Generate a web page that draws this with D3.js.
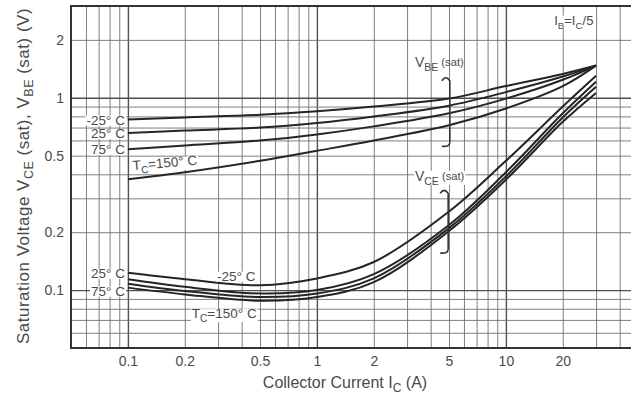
<!DOCTYPE html>
<head>
  <meta charset="utf-8">
  <script src="https://d3js.org/d3.v7.min.js"></script>
  <style>
    body { margin:0; background:#fff; }
    text { font-family: "Liberation Sans", Arial, sans-serif; fill:#4a4a4a; }
    .grid line { stroke:#707070; stroke-width:0.9px; }
    .grid line.major { stroke:#505050; stroke-width:1.4px; }
    .curve { fill:none; stroke:#252525; stroke-width:2px; }
    .brace { fill:none; stroke:#353535; stroke-width:1.6px; }
  </style>
</head>
<body>
<script>
// collector current (A) at which curves were read
var current = [0.1, 0.2, 0.5, 1, 2, 5, 10, 20, 30];

// V_BE(sat) per case temperature
var vbeM25 = [0.77, 0.79, 0.815, 0.85, 0.90, 0.99, 1.15, 1.33, 1.47];
var vbe25  = [0.655, 0.675, 0.70, 0.74, 0.80, 0.91, 1.07, 1.29, 1.47];
var vbe75  = [0.54, 0.565, 0.60, 0.645, 0.71, 0.83, 0.99, 1.24, 1.47];
var vbe150 = [0.377, 0.41, 0.47, 0.53, 0.60, 0.72, 0.88, 1.15, 1.47];

// V_CE(sat) per case temperature
var vceM25 = [0.123, 0.114, 0.106, 0.115, 0.140, 0.256, 0.47, 0.90, 1.30];
var vce25  = [0.114, 0.104, 0.096, 0.100, 0.121, 0.218, 0.41, 0.83, 1.21];
var vce75  = [0.108, 0.099, 0.092, 0.096, 0.115, 0.210, 0.39, 0.79, 1.14];
var vce150 = [0.103, 0.095, 0.088, 0.092, 0.110, 0.203, 0.375, 0.75, 1.06];

var xTickLabels = [0.1, 0.2, 0.5, 1, 2, 5, 10, 20];
var yTickLabels = [0.1, 0.2, 0.5, 1, 2];

var svg = d3.select("body").append("svg")
  .attr("width", 631)
  .attr("height", 394);

var x = d3.scaleLog().domain([0.05, 50]).range([71, 638]);
var y = d3.scaleLog().domain([0.05, 3]).range([348, 6]);

function isDecade(d) {
  var l = Math.log10(d);
  return Math.abs(l - Math.round(l)) < 1e-6;
}

// grid
svg.append("g")
  .attr("class", "grid")
  .attr("transform", "translate(0,348)")
  .call(d3.axisBottom(x).tickSize(-342).tickFormat(""))
  .call(function(g) { g.select(".domain").remove(); })
  .selectAll("line").classed("major", isDecade);

svg.append("g")
  .attr("class", "grid")
  .attr("transform", "translate(71,0)")
  .call(d3.axisLeft(y).tickSize(-567).tickFormat(""))
  .call(function(g) { g.select(".domain").remove(); })
  .selectAll("line").classed("major", isDecade);

// frame
svg.append("rect")
  .attr("x", x.range()[0]).attr("y", y.range()[1])
  .attr("width", x.range()[1] - x.range()[0])
  .attr("height", y.range()[0] - y.range()[1])
  .attr("fill", "none").attr("stroke", "#333").attr("stroke-width", 2);

// tick labels
var xAx = svg.append("g")
  .attr("transform", "translate(0,348)")
  .call(d3.axisBottom(x).tickValues(xTickLabels).tickSize(0).tickPadding(8).tickFormat(d3.format("~g")));
xAx.select(".domain").remove();
xAx.selectAll("text").attr("font-size", 14).attr("font-family", null).attr("fill", null);

var yAx = svg.append("g")
  .attr("transform", "translate(71,0)")
  .call(d3.axisLeft(y).tickValues(yTickLabels).tickSize(0).tickPadding(7).tickFormat(d3.format("~g")));
yAx.select(".domain").remove();
yAx.selectAll("text").attr("font-size", 14).attr("font-family", null).attr("fill", null);

// curves
var line = d3.line()
  .x(function(d) { return x(d[0]); })
  .y(function(d) { return y(d[1]); })
  .curve(d3.curveCatmullRom.alpha(0.5));

[vbeM25, vbe25, vbe75, vbe150, vceM25, vce25, vce75, vce150].forEach(function(s) {
  svg.append("path")
    .attr("class", "curve")
    .attr("d", line(d3.zip(current, s)));
});

// text helper: parts = [[text, kind]], kind: null | "sub" | "small"
function label(px, py, parts, opt) {
  opt = opt || {};
  var size = opt.size || 14;
  var g = svg.append("g").attr("transform", "translate(" + px + "," + py + ")" + (opt.rotate ? " rotate(" + opt.rotate + ")" : ""));
  var bg = g.append("rect").attr("fill", "#fff");
  var t = g.append("text")
    .attr("font-size", size)
    .attr("text-anchor", opt.anchor || "start");
  var shift = 0;
  parts.forEach(function(p) {
    var sp = t.append("tspan").text(p[0]);
    var want = p[1] == "sub" ? 4 : (p[1] == "small" ? -1 : 0);
    sp.attr("dy", want - shift);
    shift = want;
    if (p[1] == "sub") sp.attr("font-size", size * 0.75);
    if (p[1] == "small") sp.attr("font-size", size * 0.8);
  });
  if (opt.bg !== false) {
    var b = t.node().getBBox();
    bg.attr("x", b.x - 1).attr("y", b.y + 3).attr("width", b.width + 2).attr("height", b.height - 5);
  }
  return g;
}

// V_BE labels
label(x(0.1) - 3, y(vbeM25[0]) + 5, [["-25° C"]], {anchor: "end", size: 13.5});
label(x(0.1) - 3, y(vbe25[0]) + 5, [["25° C"]], {anchor: "end", size: 13.5});
label(x(0.1) - 3, y(vbe75[0]) + 5, [["75° C"]], {anchor: "end", size: 13.5});
label(x(0.1) + 5, y(vbe150[0]) - 9, [["T"], ["C", "sub"], ["=150° C"]], {rotate: -5, size: 13.5});

// V_CE labels
label(x(0.1) - 3, y(vceM25[0]) + 5, [["25° C"]], {anchor: "end", size: 13.5});
label(x(0.1) - 3, y(vce150[0]) + 8, [["75° C"]], {anchor: "end", size: 13.5});
label(x(0.3) - 1, y(0.112), [["-25° C"]], {size: 13.5});
label(x(0.2) + 7, y(0.0715), [["T"], ["C", "sub"], ["=150° C"]], {size: 13.5});

// annotations
label(x(18), y(2.4), [["I"], ["B", "sub"], ["=I"], ["C", "sub"], ["/5"]], {size: 13});
label(x(3.3), y(1.45), [["V"], ["BE", "sub"], [" (sat)", "small"]], {size: 14, bg: false});
label(x(3.3), y(0.37), [["V"], ["CE", "sub"], [" (sat)", "small"]], {size: 14});

function brace(xv, top, bottom) {
  var px = x(xv), t = y(top), b = y(bottom);
  svg.append("path").attr("class", "brace")
    .attr("d", "M" + (px - 8) + "," + (t + 3) + " Q" + (px - 4) + "," + (t - 3) + " " + px + "," + (t + 3) +
      " L" + px + "," + (b - 4) + " Q" + px + "," + (b + 1) + " " + (px - 8) + "," + b);
}
brace(5.05, 1.27, 0.56);
brace(4.95, 0.33, 0.156);

// axis titles
svg.append("text")
  .attr("x", 345)
  .attr("y", 388)
  .attr("text-anchor", "middle")
  .attr("font-size", 16)
  .call(function(t) {
    t.append("tspan").text("Collector Current I");
    t.append("tspan").text("C").attr("font-size", 12).attr("dy", 4);
    t.append("tspan").text(" (A)").attr("dy", -4);
  });

svg.append("text")
  .attr("transform", "translate(29,176) rotate(-90)")
  .attr("text-anchor", "middle")
  .attr("font-size", 17)
  .attr("letter-spacing", 0.5)
  .call(function(t) {
    t.append("tspan").text("Saturation Voltage V");
    t.append("tspan").text("CE").attr("font-size", 12.5).attr("dy", 4);
    t.append("tspan").text(" (sat), V").attr("dy", -4);
    t.append("tspan").text("BE").attr("font-size", 12.5).attr("dy", 4);
    t.append("tspan").text(" (sat) (V)").attr("dy", -4);
  });
</script>
</body>
